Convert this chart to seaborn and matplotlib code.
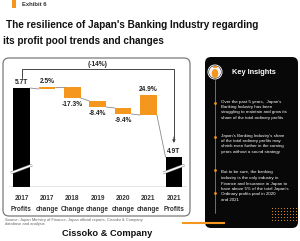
import numpy as np
import pandas as pd
import matplotlib
matplotlib.use("Agg")
import matplotlib.pyplot as plt
import matplotlib.patheffects as pe
from matplotlib.patches import FancyBboxPatch, Rectangle, Circle, Ellipse
import seaborn as sns

sns.set_theme(style="white")
NARROW = ["Liberation Sans Narrow", "Liberation Sans", "DejaVu Sans"]
ARIAL = ["Liberation Sans", "DejaVu Sans"]
plt.rcParams["font.family"] = ARIAL

## data (bar levels, the chart is a broken-axis waterfall)
steps = ["2017\nProfits", "2017\nchange", "2018\nChange", "2019\nchange",
         "2020\nchange", "2021\nchange", "2021\nProfits"]
bar_lo = [0, 98, 89, 80, 73, 72, 0]
bar_hi = [99, 100, 100, 86, 79, 92, 30]
bar_text = ["5.7T", "2.5%", "-17.3%", "-8.4%", "-9.4%", "24.9%", "4.9T"]
is_total = [True, False, False, False, False, False, True]
total_change = "(-14%)"

bullets = [
    "Over the past 5 years,  Japan's\nBanking Industry has been\nstruggling to maintain and grow its\nshare of the total ordinary profits",
    "Japan's Banking Industry's share\nof the total ordinary profits may\nshrink even further in the coming\nyears without a sound strategy",
    "But to be sure, the banking\nindustry is the only industry in\nFinance and Insurance in Japan to\nhave above 5% of the total Japan's\nOrdinary profits pool in 2020\nand 2021",
]

ORANGE = "#F5961F"
df = pd.DataFrame({"step": steps, "lo": bar_lo, "hi": bar_hi})
df["h"] = df["hi"] - df["lo"]

fig = plt.figure(figsize=(3.0, 2.41), dpi=100)

# background layer in pixel coords
bg = fig.add_axes([0, 0, 1, 1])
bg.set_xlim(0, 300)
bg.set_ylim(241, 0)
bg.axis("off")

bg.add_patch(Rectangle((12, 0), 4, 8, color=ORANGE, lw=0))
bg.text(22, 5, "Exhibit 6", fontsize=4.2, fontweight="bold", color="#333", va="center")
bg.text(6, 25, "The resilience of Japan's Banking Industry regarding", fontsize=7.2,
        fontweight="bold", family=NARROW, color="#111", va="center")
bg.text(3, 41, "its profit pool trends and changes", fontsize=7.2,
        fontweight="bold", family=NARROW, color="#111", va="center")

bg.add_patch(FancyBboxPatch((3, 58), 187, 158, boxstyle="round,pad=0,rounding_size=6",
                            facecolor="white", edgecolor="#7a7a7a", lw=0.9))

bg.text(5, 222, "Source: Japan Ministry of Finance, Japan official reports, Cissoko & Company\ndatabase and analysis",
        fontsize=2.9, color="#666", va="center", linespacing=1.2)
bg.text(62, 233, "Cissoko & Company", fontsize=6.7, fontweight="bold", color="#111", va="center")

# key insights panel
bg.add_patch(FancyBboxPatch((205, 57), 93, 171, boxstyle="round,pad=0,rounding_size=6",
                            facecolor="#080808", edgecolor="none"))
bg.plot([215, 215], [80, 213], color="#9a9a9a", lw=0.5)
bg.add_patch(Circle((215, 72), 7.5, facecolor="white", edgecolor="none"))
bg.add_patch(Circle((215, 72), 6.3, facecolor="#f3f3f3", edgecolor="#222", lw=0.4))
bg.add_patch(Ellipse((215, 73.5), 6.5, 9, facecolor=ORANGE, edgecolor="none"))
bg.add_patch(Rectangle((213, 66), 4, 2, facecolor=ORANGE, edgecolor="none"))
bg.text(232, 72, "Key Insights", fontsize=5.3, fontweight="bold", color="white", va="center")
for yy in [103, 137, 170, 193]:
    bg.plot(215, yy, "o", ms=2.0, color=ORANGE, mec="none")
for txt, y0 in zip(bullets, [99.5, 133.5, 170.5]):
    bg.text(221, y0, txt, fontsize=3.2, color="white", va="top", family=NARROW,
            linespacing=1.5)
gx, gy = np.meshgrid(np.arange(272, 298, 3), np.arange(208, 222, 3))
bg.scatter(gx.ravel(), gy.ravel(), s=0.6, color=ORANGE, lw=0)
bg.plot([182, 225], [223, 223], color=ORANGE, lw=1.5, solid_capstyle="butt")

# waterfall chart
ax = fig.add_axes([8.8 / 300, 1 - 187 / 241, 177.8 / 300, 125 / 241])
ax.patch.set_alpha(0)
sns.barplot(data=df, x="step", y="h", bottom=df["lo"].values, width=0.66,
            errorbar=None, color=ORANGE, saturation=1, ax=ax)
for p, tot in zip(ax.patches, is_total):
    p.set_facecolor("black" if tot else ORANGE)
    p.set_edgecolor("none")
ax.set_xlim(-0.5, len(steps) - 0.5)
ax.set_ylim(0, 125)
ax.axhline(0, color="#333", lw=0.9)

hw = 0.33
links = [(bar_hi[0], bar_lo[1]), (bar_hi[1], bar_hi[2]), (bar_lo[2], bar_hi[3]),
         (bar_lo[3], bar_hi[4]), (bar_lo[4], bar_lo[5]), (bar_lo[5], bar_hi[6])]
for i, (a, b) in enumerate(links):
    ax.plot([i + hw, i + 1 - hw], [a, b], color="#8a8a8a", lw=0.6)

for i, (lab, lo, hi) in enumerate(zip(bar_text, bar_lo, bar_hi)):
    if lab.startswith("-"):
        ax.annotate(lab, (i, lo), xytext=(0, -2.5), textcoords="offset points",
                    ha="center", va="top", fontsize=4.8, fontweight="bold",
                    family=NARROW, color="#222")
    else:
        ax.annotate(lab, (i, hi), xytext=(0, 1.5), textcoords="offset points",
                    ha="center", va="bottom", fontsize=4.8, fontweight="bold",
                    family=NARROW, color="#222")

# axis break marks on the totals
for i, tot in enumerate(is_total):
    if tot:
        ax.plot([i - 0.42, i + 0.42], [14, 22], color="white", lw=1.1,
                solid_capstyle="butt",
                path_effects=[pe.Stroke(linewidth=1.9, foreground="#888"), pe.Normal()])

# bracket with total change
last = len(steps) - 1
ax.plot([0, 0, last, last], [109, 118, 118, 47], color="#444", lw=0.7)
ax.annotate("", xy=(last, 44), xytext=(last, 50),
            arrowprops=dict(arrowstyle="-|>", color="#444", lw=0.7,
                            mutation_scale=4, shrinkA=0, shrinkB=0))
ax.text(3, 123, total_change, ha="center", va="center", fontsize=4.8,
        fontweight="bold", family=NARROW, color="#222")

ax.set_xlabel("")
ax.set_ylabel("")
ax.set_yticks([])
ax.set_xticks(range(len(steps)))
ax.set_xticklabels(steps, fontsize=4.7, fontweight="bold", family=NARROW,
                   color="#333", linespacing=1.8)
ax.tick_params(axis="x", length=0, pad=5.5)
sns.despine(ax=ax, left=True, bottom=True)

fig.savefig("out.png", dpi=100)
